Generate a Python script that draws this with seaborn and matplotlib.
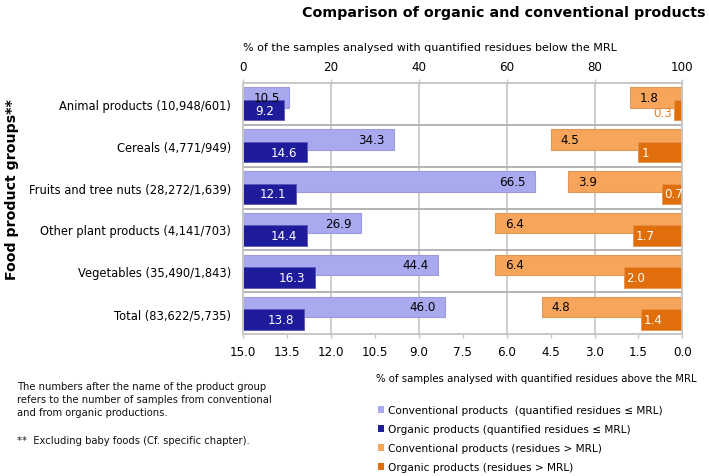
import numpy as np
import matplotlib
matplotlib.use("Agg")
import matplotlib.pyplot as plt
import seaborn as sns
from matplotlib.patches import Patch

# ---------------- data ----------------
groups = ["Animal products (10,948/601)", "Cereals (4,771/949)",
          "Fruits and tree nuts (28,272/1,639)", "Other plant products (4,141/703)",
          "Vegetables (35,490/1,843)", "Total (83,622/5,735)"]
conv_below = [10.5, 34.3, 66.5, 26.9, 44.4, 46.0]
org_below = [9.2, 14.6, 12.1, 14.4, 16.3, 13.8]
conv_above = [1.8, 4.5, 3.9, 6.4, 6.4, 4.8]
org_above = [0.3, 1.5, 0.7, 1.7, 2.0, 1.4]
conv_below_lbl = ["10.5", "34.3", "66.5", "26.9", "44.4", "46.0"]
org_below_lbl = ["9.2", "14.6", "12.1", "14.4", "16.3", "13.8"]
conv_above_lbl = ["1.8", "4.5", "3.9", "6.4", "6.4", "4.8"]
org_above_lbl = ["0.3", "1", "0.7", "1.7", "2.0", "1.4"]
top_ticks = [0, 20, 40, 60, 80, 100]
bottom_ticks = [15.0, 13.5, 12.0, 10.5, 9.0, 7.5, 6.0, 4.5, 3.0, 1.5, 0.0]
legend_labels = ["Conventional products  (quantified residues \u2264 MRL)",
                 "Organic products (quantified residues \u2264 MRL)",
                 "Conventional products (residues > MRL)",
                 "Organic products (residues > MRL)"]

# ---------------- style ----------------
sns.set_style("white")
plt.rcParams['font.family'] = ['DejaVu Sans']
plt.rcParams['text.color'] = 'black'
plt.rcParams['xtick.labelcolor'] = 'black'
plt.rcParams['ytick.labelcolor'] = 'black'
C_LP = '#A9A9F0'
C_NV = '#1F1C9C'
C_LO = '#F8A55C'
C_DO = '#E06E0A'
GRID = '#C6C6C6'
FS = 8.3

fig = plt.figure(figsize=(7.09, 4.77), dpi=100)
ax = fig.add_axes([243.3 / 709, 1 - 335 / 477, 439 / 709, 251 / 477])
ax2 = ax.twiny()

pos = np.arange(len(groups), dtype=float)
off = 0.15
h = 0.49

sns.barplot(x=conv_below, y=pos - off, orient='y', native_scale=True, width=h,
            color=C_LP, saturation=1, errorbar=None, ax=ax,
            edgecolor='#9C9CD8', linewidth=0.8)
sns.barplot(x=org_below, y=pos + off, orient='y', native_scale=True, width=h,
            color=C_NV, saturation=1, errorbar=None, ax=ax,
            edgecolor='#5A57B8', linewidth=0.6)
sns.barplot(x=conv_above, y=pos - off, orient='y', native_scale=True, width=h,
            color=C_LO, saturation=1, errorbar=None, ax=ax2,
            edgecolor='#E0975A', linewidth=0.8)
sns.barplot(x=org_above, y=pos + off, orient='y', native_scale=True, width=h,
            color=C_DO, saturation=1, errorbar=None, ax=ax2,
            edgecolor='#E8924A', linewidth=0.6)

# axes limits / ticks
ax.set_xlim(0, 100)
ax2.set_xlim(15, 0)
ax.set_ylim(5.5, -0.5)

ax.xaxis.tick_top()
ax.set_xticks(top_ticks)
ax.set_xticklabels([str(t) for t in top_ticks], fontsize=FS + 0.3)
ax.tick_params(axis='x', direction='out', length=3, width=1, color=GRID, pad=4)
ax.set_xlabel("")
ax.set_ylabel("")

ax2.xaxis.tick_bottom()
ax2.set_xticks(bottom_ticks)
ax2.set_xticklabels([f"{t:.1f}" for t in bottom_ticks], fontsize=FS + 0.3)
ax2.tick_params(axis='x', direction='out', length=3, width=1, color=GRID, pad=5)
ax2.set_xlabel("")
ax2.set_ylabel("")

ax.set_yticks(pos)
ax.set_yticklabels(groups, fontsize=FS)
ax.set_yticks(np.arange(-0.5, 6.0, 1.0), minor=True)
ax.tick_params(axis='y', which='major', length=0, pad=9)
ax.tick_params(axis='y', which='minor', length=3, width=1, color=GRID, direction='out')

for a in (ax, ax2):
    for s in a.spines.values():
        s.set_color(GRID)
        s.set_linewidth(1.1)

ax.set_axisbelow(True)
for t in top_ticks[1:-1]:
    ax.axvline(t, color=GRID, lw=1.2, zorder=0)
for b in np.arange(0.5, 5.0, 1.0):
    ax.axhline(b, color='#B4B4B4', lw=1.4, zorder=0)

# ---------------- value labels ----------------
PADPT = 7.0
LFS = FS + 0.3
for y, v, s in zip(pos, conv_below, conv_below_lbl):
    ax.annotate(s, xy=(v, y - off), xytext=(-PADPT, 0), textcoords='offset points',
                ha='right', va='center', fontsize=LFS, color='black')
for y, v, s in zip(pos, org_below, org_below_lbl):
    ax.annotate(s, xy=(v, y + off), xytext=(-PADPT, 0), textcoords='offset points',
                ha='right', va='center', fontsize=LFS, color='white')
for y, v, s in zip(pos, conv_above, conv_above_lbl):
    ax2.annotate(s, xy=(v, y - off), xytext=(PADPT, 0), textcoords='offset points',
                 ha='left', va='center', fontsize=LFS, color='black')
for y, v, s in zip(pos, org_above, org_above_lbl):
    if v < 0.5:
        ax2.annotate(s, xy=(v, y + off), xytext=(-1, -2), textcoords='offset points',
                     ha='right', va='center', fontsize=LFS, color='#F07F1E')
    else:
        ax2.annotate(s, xy=(v, y + off), xytext=(2, 0), textcoords='offset points',
                     ha='left', va='center', fontsize=LFS, color='white')

# ---------------- texts ----------------
fig.text(705 / 709, 1 - 13 / 477, "Comparison of organic and conventional products",
         ha='right', va='center', fontsize=10.3, fontweight='bold')
fig.text(243 / 709, 1 - 48 / 477,
         "% of the samples analysed with quantified residues below the MRL",
         ha='left', va='center', fontsize=8.05)
fig.text(697 / 709, 1 - 379 / 477,
         "% of samples analysed with quantified residues above the MRL",
         ha='right', va='center', fontsize=7.3)
fig.text(12 / 709, 1 - 190 / 477, "Food product groups**", rotation=90,
         ha='center', va='center', fontsize=10.2, fontweight='bold')
fig.text(17 / 709, 1 - 400 / 477,
         "The numbers after the name of the product group\n"
         "refers to the number of samples from conventional\n"
         "and from organic productions.",
         ha='left', va='center', fontsize=7.2, linespacing=1.35, color='#111111')
fig.text(17 / 709, 1 - 441 / 477, "**  Excluding baby foods (Cf. specific chapter).",
         ha='left', va='center', fontsize=7.2, color='#111111')

handles = [Patch(facecolor=c, edgecolor='none') for c in (C_LP, C_NV, C_LO, C_DO)]
fig.legend(handles, legend_labels, loc='upper left',
           bbox_to_anchor=(378 / 709, 1 - 406 / 477), frameon=False,
           fontsize=7.6, handlelength=0.6, handleheight=0.6, handletextpad=0.35,
           labelspacing=0.86, borderpad=0, borderaxespad=0)

fig.savefig("out.png", dpi=100)
